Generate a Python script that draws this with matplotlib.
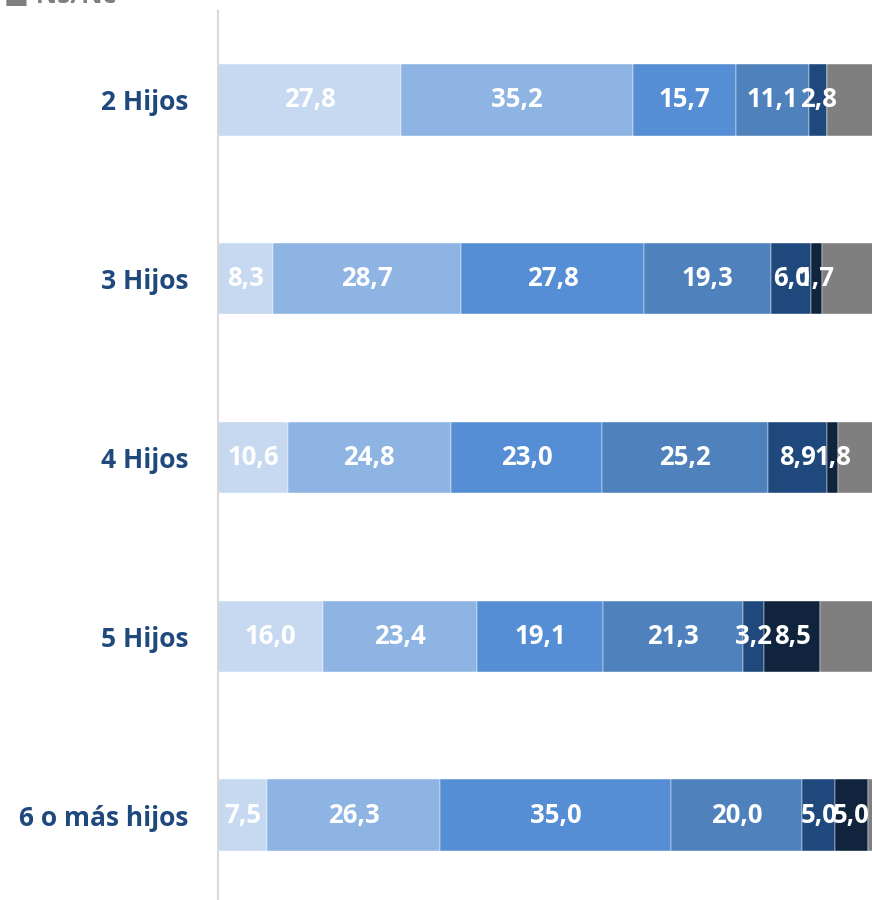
import numpy as np
import matplotlib
matplotlib.use("Agg")
import matplotlib.pyplot as plt

categories = ["2 Hijos", "3 Hijos", "4 Hijos", "5 Hijos", "6 o más hijos"]
s1 = [27.8, 8.3, 10.6, 16.0, 7.5]
s2 = [35.2, 28.7, 24.8, 23.4, 26.3]
s3 = [15.7, 27.8, 23.0, 19.1, 35.0]
s4 = [11.1, 19.3, 25.2, 21.3, 20.0]
s5 = [2.8, 6.0, 8.9, 3.2, 5.0]
s6 = [0.0, 1.7, 1.8, 8.5, 5.0]
ns_nc = [7.4, 8.2, 5.7, 8.5, 1.2]

series = [s1, s2, s3, s4, s5, s6, ns_nc]
colors = ["#C6D9F1", "#8EB4E3", "#558ED5", "#4F81BD", "#1F497D", "#10243E", "#7F7F7F"]

plt.rcParams['font.family'] = ['Open Sans', 'DejaVu Sans']

fig = plt.figure(figsize=(8.72, 9.0), dpi=100)
ax = fig.add_axes([218/872, -0.005, 658/872, 0.9933])

y = np.arange(len(categories))
left = np.zeros(len(categories))
for i, (vals, c) in enumerate(zip(series, colors)):
    vals = np.array(vals)
    ax.barh(y, vals, left=left, height=0.4, color=c, edgecolor="white", linewidth=0.3)
    if i < 6:
        for yi, (l, v) in enumerate(zip(left, vals)):
            if v > 0:
                ax.text(l + v / 2, yi, f"{v:.1f}".replace(".", ","), ha="center", va="center",
                        color="white", fontsize=18.5, fontweight="bold")
    left += vals

ax.set_xlim(0, 100)
ax.set_ylim(len(categories) - 0.5, -0.5)
ax.set_yticks(y)
ax.set_yticklabels(categories, fontsize=19, fontweight="bold", color="#1F497D")
ax.tick_params(axis="y", length=0, pad=21)
ax.set_xticks([])
for s in ["top", "right", "bottom"]:
    ax.spines[s].set_visible(False)
ax.spines["left"].set_color("#D9D9D9")
ax.spines["left"].set_linewidth(1.5)

# legend entry cut off at the top of the picture
fig.text(0.005, 1.005, "■ Ns/Nc", ha="left", va="center", fontsize=19,
         fontweight="bold", color="#7F7F7F")

fig.savefig("out.png", dpi=100)
